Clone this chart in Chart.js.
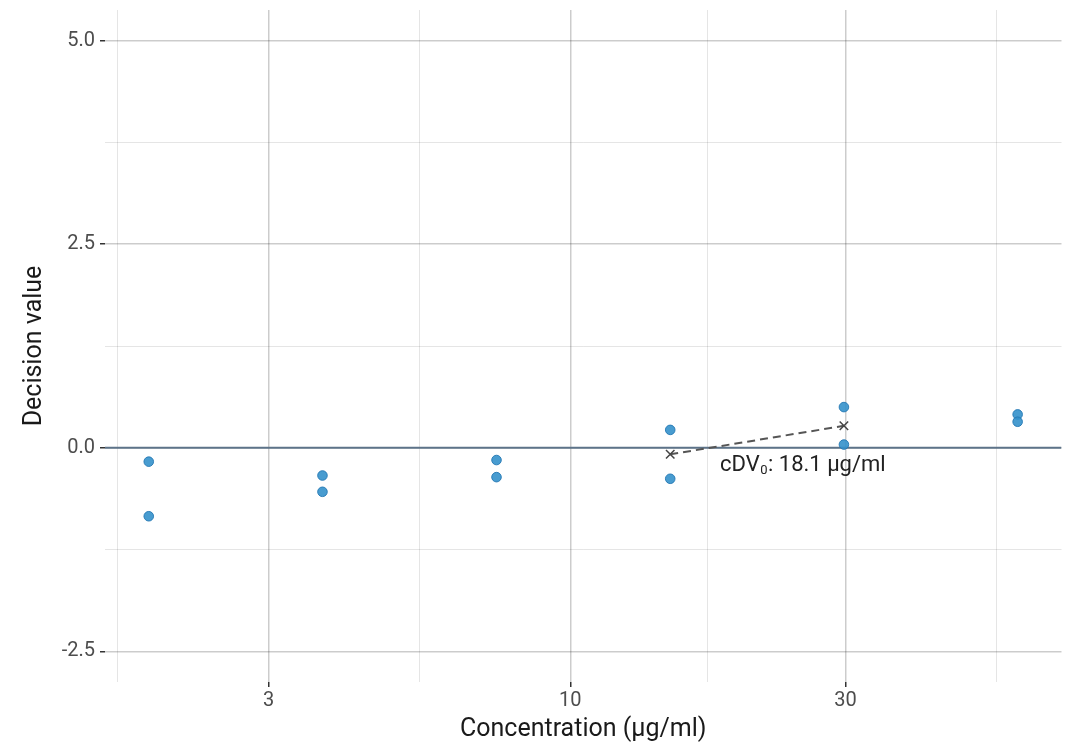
<!DOCTYPE html>
<html>
<head>
<meta charset="utf-8">
<script src="https://cdn.jsdelivr.net/npm/chart.js@4/dist/chart.umd.min.js"></script>
<style>
  html, body { margin: 0; padding: 0; background: #fff; }
  #wrap { width: 1069px; height: 745px; }
</style>
</head>
<body>
<div id="wrap"><canvas id="chart"></canvas></div>
<script>
// measurements
const concentrations = [1.86, 1.86, 3.72, 3.72, 7.45, 7.45, 14.9, 14.9, 29.8, 29.8, 59.6, 59.6];
const decisionValues = [-0.17, -0.84, -0.34, -0.54, -0.15, -0.36, 0.22, -0.38, 0.50, 0.04, 0.41, 0.32];

// mean points used for the cDV0 interpolation
const meanConc = [14.9, 29.8];
const meanValues = [-0.08, 0.27];

const cdv0 = 18.1;
const cdvLabel = ['cDV', '0', ': 18.1 µg/ml'];

// axis breaks
const xMajor = [3, 10, 30];
const xTicks = [1.643, 3, 5.477, 10, 17.32, 30, 54.77];
const yMajor = [-2.5, 0, 2.5, 5];
const yTicks = [-2.5, -1.25, 0, 1.25, 2.5, 3.75, 5];
const xMin = 1.562, xMax = 71.0;
const yMin = -2.875, yMax = 5.375;

const FONT = 'Roboto, "DejaVu Sans", sans-serif';

const isMajorX = v => xMajor.some(m => Math.abs(m - v) < 1e-6);
const isMajorY = v => yMajor.some(m => Math.abs(m - v) < 1e-6);

const labelPlugin = {
    id: 'cdvLabel',
    afterDatasetsDraw(chart) {
        const { ctx, scales: { x, y } } = chart;
        let px = x.getPixelForValue(cdv0) + 1;
        const py = y.getPixelForValue(-0.22);
        ctx.save();
        ctx.fillStyle = '#222';
        ctx.textBaseline = 'middle';
        ctx.textAlign = 'left';
        ctx.font = '22px ' + FONT;
        ctx.fillText(cdvLabel[0], px, py);
        px += ctx.measureText(cdvLabel[0]).width;
        ctx.font = '13px ' + FONT;
        ctx.fillText(cdvLabel[1], px + 0.5, py + 5);
        px += ctx.measureText(cdvLabel[1]).width + 1;
        ctx.font = '22px ' + FONT;
        ctx.fillText(cdvLabel[2], px, py);
        ctx.restore();
    }
};

new Chart(document.getElementById('chart'), {
    type: 'scatter',
    data: {
        datasets: [
            {
                label: 'zero',
                type: 'line',
                data: [{ x: xMin, y: 0 }, { x: xMax, y: 0 }],
                borderColor: '#5d7389',
                borderWidth: 2,
                pointRadius: 0,
                order: 3
            },
            {
                label: 'interpolation',
                type: 'line',
                data: meanConc.map((c, i) => ({ x: c, y: meanValues[i] })),
                borderColor: '#555',
                borderWidth: 2,
                borderDash: [8, 5],
                pointStyle: 'crossRot',
                pointRadius: 6,
                pointBorderColor: '#444',
                pointBorderWidth: 1.5,
                order: 1
            },
            {
                label: 'values',
                data: concentrations.map((c, i) => ({ x: c, y: decisionValues[i] })),
                backgroundColor: 'rgba(52, 145, 203, 0.9)',
                borderColor: 'rgba(35, 120, 180, 0.9)',
                borderWidth: 1,
                pointRadius: 4.8,
                order: 2
            }
        ]
    },
    options: {
        responsive: true,
        maintainAspectRatio: false,
        animation: false,
        layout: { padding: { top: 10, right: 7, left: 0, bottom: 0 } },
        plugins: {
            legend: { display: false },
            tooltip: { enabled: false }
        },
        scales: {
            x: {
                type: 'logarithmic',
                min: xMin,
                max: xMax,
                afterBuildTicks: s => { s.ticks = xTicks.map(v => ({ value: v })); },
                afterFit: s => { s.height = 63; s.paddingLeft = 0; s.paddingRight = 0; },
                border: { display: false },
                grid: {
                    color: c => isMajorX(c.tick.value) ? 'rgba(0,0,0,0.2)' : 'rgba(0,0,0,0.1)',
                    lineWidth: c => isMajorX(c.tick.value) ? 1.5 : 1,
                    tickColor: c => isMajorX(c.tick.value) ? '#333' : 'rgba(0,0,0,0)',
                    tickLength: 5,
                    tickWidth: 1.5
                },
                ticks: {
                    autoSkip: false,
                    maxRotation: 0,
                    padding: 2,
                    color: '#4d4d4d',
                    font: { family: FONT, size: 20 },
                    callback: function (v, i) { return isMajorX(xTicks[i]) ? String(xTicks[i]) : ''; }
                },
                title: {
                    display: true,
                    text: 'Concentration (µg/ml)',
                    color: '#1a1a1a',
                    font: { family: FONT, size: 25 },
                    padding: { top: 0, bottom: 0 }
                }
            },
            y: {
                min: yMin,
                max: yMax,
                afterBuildTicks: s => { s.ticks = yTicks.map(v => ({ value: v })); },
                afterFit: s => { s.width = 105; s.paddingTop = 0; s.paddingBottom = 0; },
                border: { display: false },
                grid: {
                    color: c => isMajorY(c.tick.value) ? 'rgba(0,0,0,0.2)' : 'rgba(0,0,0,0.1)',
                    lineWidth: c => isMajorY(c.tick.value) ? 1.5 : 1,
                    tickColor: c => isMajorY(c.tick.value) ? '#333' : 'rgba(0,0,0,0)',
                    tickLength: 5,
                    tickWidth: 1.5
                },
                ticks: {
                    autoSkip: false,
                    padding: 5,
                    color: '#4d4d4d',
                    font: { family: FONT, size: 20 },
                    callback: function (v, i) { return isMajorY(yTicks[i]) ? yTicks[i].toFixed(1) : ''; }
                },
                title: {
                    display: true,
                    text: 'Decision value',
                    color: '#1a1a1a',
                    font: { family: FONT, size: 25 },
                    padding: { top: 20, bottom: 0 }
                }
            }
        }
    },
    plugins: [labelPlugin]
});
</script>
</body>
</html>
